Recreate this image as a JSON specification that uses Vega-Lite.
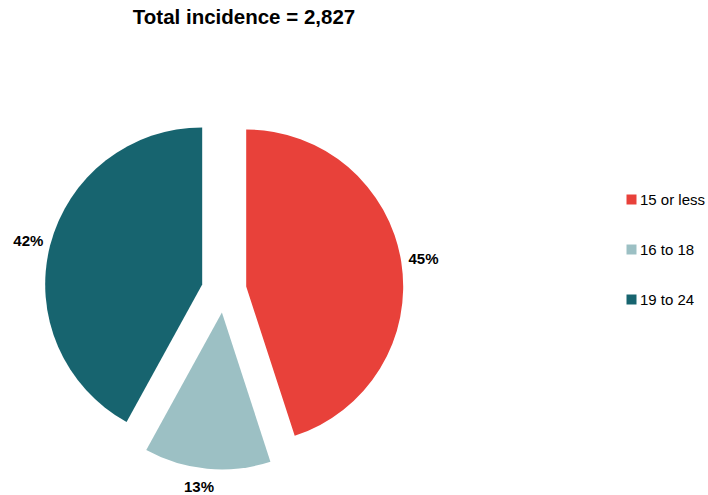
{
  "$schema": "https://vega.github.io/schema/vega-lite/v6.json",
  "autosize": "none",
  "width": 448,
  "height": 410,
  "padding": {"left": 0, "top": 85, "right": 260, "bottom": 0},
  "background": "white",
  "config": {"view": {"stroke": null}, "font": "Liberation Sans"},
  "title": {
    "text": "Total incidence = 2,827",
    "fontSize": 20.5,
    "fontWeight": "bold",
    "font": "Liberation Sans",
    "color": "black",
    "anchor": "middle",
    "dx": 20,
    "offset": 57
  },
  "data": {
    "values": [
      {"group": "15 or less", "share": 0.45},
      {"group": "16 to 18", "share": 0.13},
      {"group": "19 to 24", "share": 0.42}
    ]
  },
  "transform": [
    {"stack": "share", "groupby": [], "sort": [{"field": "group", "order": "ascending"}], "as": ["start", "end"]}
  ],
  "encoding": {
    "color": {
      "field": "group",
      "type": "nominal",
      "scale": {"domain": ["15 or less", "16 to 18", "19 to 24"], "range": ["#E8413A", "#9CC0C4", "#17646F"]},
      "legend": {
        "title": null,
        "orient": "none",
        "legendX": 624,
        "legendY": 107,
        "padding": 0,
        "symbolType": "square",
        "symbolSize": 100,
        "symbolStrokeWidth": 0,
        "labelFontSize": 15,
        "labelFont": "Liberation Sans",
        "labelColor": "black",
        "labelOffset": 1,
        "rowPadding": 34
      }
    }
  },
  "layer": [
    {
      "transform": [{"filter": "datum.group == '15 or less'"}],
      "mark": {"type": "arc", "radius": 157, "xOffset": 22.2, "yOffset": -3.5},
      "encoding": {
        "theta": {"field": "start", "type": "quantitative", "scale": {"domain": [0, 1]}},
        "theta2": {"field": "end"}
      }
    },
    {
      "transform": [{"filter": "datum.group == '16 to 18'"}],
      "mark": {"type": "arc", "radius": 157, "xOffset": -2.1, "yOffset": 22.4},
      "encoding": {
        "theta": {"field": "start", "type": "quantitative", "scale": {"domain": [0, 1]}},
        "theta2": {"field": "end"}
      }
    },
    {
      "transform": [{"filter": "datum.group == '19 to 24'"}],
      "mark": {"type": "arc", "radius": 157, "xOffset": -21.8, "yOffset": -5.6},
      "encoding": {
        "theta": {"field": "start", "type": "quantitative", "scale": {"domain": [0, 1]}},
        "theta2": {"field": "end"}
      }
    },
    {
      "mark": {"type": "text", "radius": 202, "fontSize": 15, "fontWeight": "bold", "font": "Liberation Sans", "color": "black", "dx": {"expr": "datum.group == '16 to 18' ? -6 : 0"}, "dy": {"expr": "datum.group == '16 to 18' ? -4 : 1"}},
      "encoding": {
        "theta": {"field": "share", "type": "quantitative", "stack": true, "scale": {"domain": [0, 1]}},
        "order": {"field": "group", "type": "ordinal"},
        "text": {"field": "share", "type": "quantitative", "format": ".0%"},
        "color": {"value": "black"}
      }
    }
  ]
}
